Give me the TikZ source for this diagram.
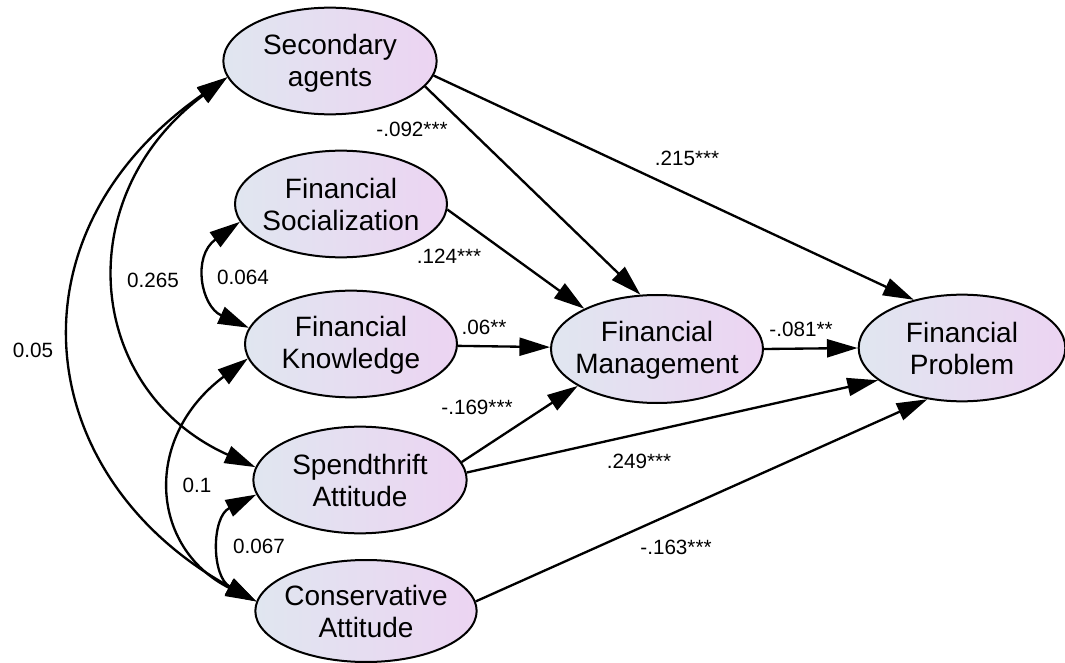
\documentclass[tikz,border=0pt]{standalone}
\usepackage{fontspec}
\setmainfont{Liberation Sans}
\usetikzlibrary{arrows.meta,shapes.geometric}
\definecolor{shL}{RGB}{224,230,240}
\definecolor{shR}{RGB}{236,212,242}
\begin{document}
\begin{tikzpicture}[x=0.75pt,y=-0.75pt,
  var/.style={ellipse, draw, line width=1.5pt, left color=shL, right color=shR, inner sep=0pt},
  vtext/.style={align=center, font=\fontsize{21}{24}\selectfont, inner sep=0pt},
  lab/.style={font=\fontsize{15.5}{18}\selectfont, inner sep=0pt},
  tip/.tip={Triangle[length=23pt,width=13.5pt]},
  pth/.style={line width=1.75pt, -tip},
  cov/.style={line width=1.75pt, tip-tip}]
\useasboundingbox (0,0) rectangle (1065,663);

\node[var, minimum width=160pt, minimum height=80pt] (SA) at (330,61) {};
\node[var, minimum width=159pt, minimum height=80pt] (FS) at (341,204) {};
\node[var, minimum width=159pt, minimum height=80pt] (FK) at (351,344) {};
\node[var, minimum width=160pt, minimum height=80pt] (SpA) at (360,480) {};
\node[var, minimum width=166pt, minimum height=76.5pt] (CA) at (366,611) {};
\node[var, minimum width=159pt, minimum height=81pt] (FM) at (657,349) {};
\node[var, minimum width=155pt, minimum height=80pt] (FP) at (962,348) {};

\node[vtext] (SAt) at (330,63.5) {Secondary\\agents};
\node[vtext] (FSt) at (FS) {Financial\\Socialization};
\node[vtext] (FKt) at (351,345.5) {Financial\\Knowledge};
\node[vtext] (SpAt) at (SpA) {Spendthrift\\Attitude};
\node[vtext] (CAt) at (CA) {Conservative\\Attitude};
\node[vtext] (FMt) at (657,350) {Financial\\Management};
\node[vtext] (FPt) at (FP) {Financial\\Problem};

% directed paths
\draw[pth] (SA.-15) -- (FM.107);
\draw[pth] (SA.-8) -- (FP.135);
\draw[pth] (FS.-3) -- (FM.151);
\draw[pth] (FK.-1) -- (FM.179);
\draw[pth] (FM.0) -- (FP.180);
\draw[pth] (SpA.10) -- (FM.205);
\draw[pth] (SpA.4) -- (FP.201);
\draw[pth] (CA.5) -- (FP.236);

% covariances
\draw[cov] (SA.189) .. controls +(-225,157) and +(-225,-124) .. (CA.175);
\draw[cov] (SA.189) .. controls +(-160,120) and +(-170,-76.5) .. (SpA.173);
\draw[cov] (FS.190) .. controls +(-48,34.6) and +(-48,-21.6) .. (FK.171);
\draw[cov] (FK.188) .. controls +(-106,79.5) and +(-106,-53) .. (CA.175);
\draw[cov] (SpA.188) .. controls +(-45,22.5) and +(-45,-25) .. (CA.175);

% labels
\node[lab] (l1) at (412,129) {-.092***};
\node[lab] (l2) at (687,158) {.215***};
\node[lab] (l3) at (449,256) {.124***};
\node[lab] (l4) at (153,280) {0.265};
\node[lab] (l5) at (243,277) {0.064};
\node[lab] (l6) at (484,327) {.06**};
\node[lab] (l7) at (801,329) {-.081**};
\node[lab] (l8) at (33,350) {0.05};
\node[lab] (l9) at (477,407) {-.169***};
\node[lab] (l10) at (639,461) {.249***};
\node[lab] (l11) at (197,485) {0.1};
\node[lab] (l12) at (259,546) {0.067};
\node[lab] (l13) at (676,547) {-.163***};
\end{tikzpicture}
\end{document}
